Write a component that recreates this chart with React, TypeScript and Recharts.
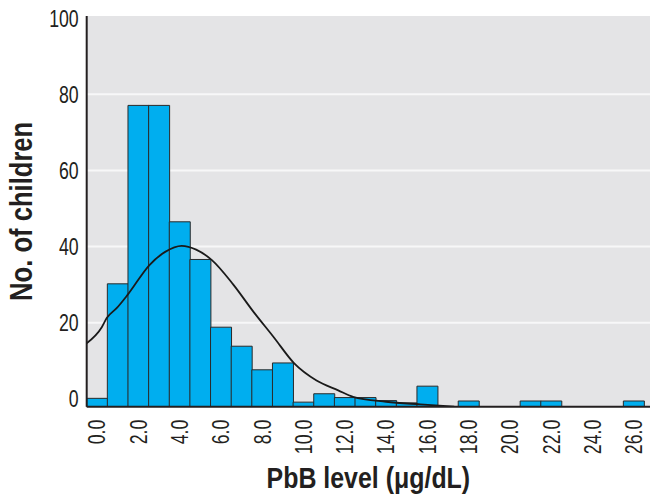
import React from 'react';
import { ComposedChart, Bar, Line, XAxis, YAxis, CartesianGrid, Label } from 'recharts';

// bins of PbB level (µg/dL), one bar per unit
const bins = [0, 1, 2, 3, 4, 5, 6, 7, 8, 9, 10, 11, 12, 13, 14, 15, 16, 17, 18, 19, 20, 21, 22, 23, 24, 25, 26];
// bar tops as read against the y axis (null = empty bin)
const barTops = [0.1, 30.2, 77.1, 77.1, 46.5, 36.6, 18.8, 13.8, 7.6, 9.4, -0.9, 1.3, 0.3, 0.3, -0.5, -1.1, 3.3, null, -0.6, null, null, -0.6, -0.6, null, null, null, -0.6];

// fitted curve
const curveX = [-0.5, 0.23, 0.47, 0.95, 1.48, 2.55, 3.3, 4.1, 4.8, 5.55, 6.6, 7.57, 8.54, 9.55, 10.63, 11.68, 12.4, 14.0, 15.66, 17.3];
const curveY = [14.6, 18.8, 21.2, 23.8, 27.3, 35.2, 38.6, 40.2, 39.2, 36.5, 30.0, 22.9, 16.3, 9.3, 4.8, 2.2, 0.5, -0.8, -1.5, -2.1];

const yTicks = [0, 20, 40, 60, 80, 100];
const Y_MIN = -2.1;
const Y_MAX = 100.6;

const FONT = '"Liberation Sans", Arial, sans-serif';
const INK = '#231f20';
const SQUEEZE = 0.77; // condensed look for tick digits

const barData = bins.map((b, i) => ({
  bin: b,
  range: barTops[i] === null ? null : [Y_MIN, barTops[i]],
}));

const curveData = curveX.map((x, i) => ({ x, y: curveY[i] }));

const squeeze = (x: number, y: number, s: number) =>
  `translate(${x},${y}) scale(${s},1) translate(${-x},${-y})`;

const XTick = (props: any) => {
  const { x, y, payload } = props;
  if (payload.value % 2 !== 0) return <g />;
  const ty = y + 5;
  return (
    <text
      x={x}
      y={ty}
      transform={`rotate(-90, ${x}, ${ty}) ${squeeze(x, ty, SQUEEZE)}`}
      textAnchor="end"
      dominantBaseline="central"
      fontFamily={FONT}
      fontSize={23}
      fill={INK}
    >
      {payload.value.toFixed(1)}
    </text>
  );
};

const YTick = (props: any) => {
  const { x, y, payload } = props;
  return (
    <text
      x={x}
      y={y}
      transform={squeeze(x, y, SQUEEZE)}
      textAnchor="end"
      dominantBaseline="central"
      fontFamily={FONT}
      fontSize={23}
      fill={INK}
    >
      {payload.value}
    </text>
  );
};

export default function App() {
  return (
    <div style={{ position: 'absolute', left: 0, top: 0, background: '#fff' }}>
      <ComposedChart
        width={653}
        height={500}
        data={barData}
        barCategoryGap={0}
        margin={{ top: 16, right: 3, left: 0, bottom: 0 }}
      >
        <CartesianGrid
          vertical={false}
          horizontalValues={[20, 40, 60, 80]}
          stroke="#f7f7f8"
          strokeWidth={2}
          fill="#e4e4e6"
          fillOpacity={1}
        />
        <XAxis
          dataKey="bin"
          height={93.3}
          interval={0}
          padding={{ left: 0, right: 6 }}
          tickLine={false}
          axisLine={{ stroke: INK, strokeWidth: 2 }}
          tick={<XTick />}
        >
          <Label
            content={(p: any) => {
              const vb = p.viewBox;
              const cx = vb.x + vb.width / 2;
              const cy = vb.y + 81;
              return (
                <text
                  x={cx}
                  y={cy}
                  transform={squeeze(cx, cy, 0.86)}
                  textAnchor="middle"
                  fontFamily={FONT}
                  fontWeight="bold"
                  fontSize={29}
                  fill={INK}
                >
                  PbB level (μg/dL)
                </text>
              );
            }}
          />
        </XAxis>
        <XAxis xAxisId="curve" type="number" dataKey="x" hide domain={[-0.5, 26.78]} allowDataOverflow />
        <YAxis
          width={86.7}
          domain={[Y_MIN, Y_MAX]}
          ticks={yTicks}
          allowDataOverflow
          tickLine={false}
          axisLine={{ stroke: INK, strokeWidth: 2 }}
          tick={<YTick />}
        >
          <Label
            content={(p: any) => {
              const vb = p.viewBox;
              const cx = 32;
              const cy = vb.y + vb.height / 2;
              return (
                <text
                  x={cx}
                  y={cy}
                  transform={`rotate(-90, ${cx}, ${cy}) ${squeeze(cx, cy, 0.8)}`}
                  textAnchor="middle"
                  fontFamily={FONT}
                  fontWeight="bold"
                  fontSize={32}
                  fill={INK}
                >
                  No. of children
                </text>
              );
            }}
          />
        </YAxis>
        <Bar dataKey="range" fill="#00aeef" stroke="#2a2a2a" strokeWidth={1} isAnimationActive={false} />
        <Line
          xAxisId="curve"
          data={curveData}
          dataKey="y"
          type="monotone"
          stroke="#1a1a1a"
          strokeWidth={1.8}
          dot={false}
          isAnimationActive={false}
        />
      </ComposedChart>
    </div>
  );
}
